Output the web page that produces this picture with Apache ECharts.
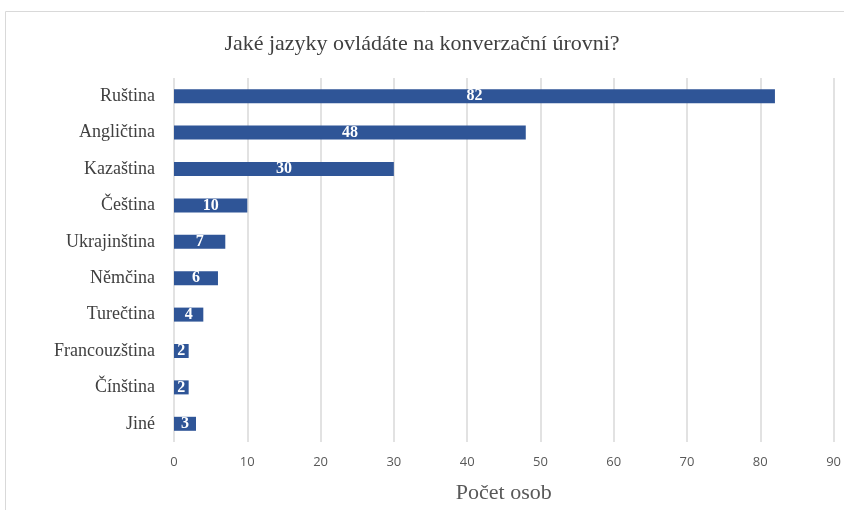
<!DOCTYPE html>
<html><head><meta charset="utf-8">
<script src="https://cdn.jsdelivr.net/npm/echarts@6/dist/echarts.min.js"></script>
<style>html,body{margin:0;padding:0;background:#fff}#c{width:844px;height:510px}</style>
</head><body><div id="c"></div>
<script>
const categories = ['Ruština','Angličtina','Kazaština','Čeština','Ukrajinština','Němčina','Turečtina','Francouzština','Čínština','Jiné'];
const values = [82,48,30,10,7,6,4,2,2,3];
const xTicks = {min:0, max:90, interval:10};
const titleText = 'Jaké jazyky ovládáte na konverzační úrovni?';
const xName = 'Počet osob';

const chart = echarts.init(document.getElementById('c'));
chart.setOption({
  animation:false,
  graphic:[{type:'rect', shape:{x:5.5,y:11.5,width:900,height:600}, style:{fill:'none', stroke:'#d9d9d9', lineWidth:1}, silent:true}],
  title:{text:titleText, left:'center', top:28, textStyle:{fontFamily:'Liberation Serif', fontSize:22, fontWeight:'normal', color:'#404040'}},
  grid:{left:174, right:10, top:78, bottom:68, containLabel:false},
  xAxis:{type:'value', min:xTicks.min, max:xTicks.max, interval:xTicks.interval,
    name:xName, nameLocation:'middle', nameGap:40,
    nameTextStyle:{fontFamily:'Liberation Serif', fontSize:22, color:'#595959'},
    axisLine:{show:false}, axisTick:{show:false},
    axisLabel:{fontFamily:'Open Sans', fontSize:13, color:'#595959', margin:14},
    splitLine:{show:true, lineStyle:{color:'#d9d9d9', width:1.5}}},
  yAxis:{type:'category', data:categories, inverse:true,
    axisLine:{show:false}, axisTick:{show:false},
    axisLabel:{fontFamily:'Liberation Serif', fontSize:18, color:'#404040', margin:19}},
  series:[{type:'bar', data:values, barWidth:14, itemStyle:{color:'#2F5597'},
    label:{show:true, position:'inside', color:'#fff', fontFamily:'Liberation Serif', fontWeight:'bold', fontSize:16}}]
});
</script></body></html>
